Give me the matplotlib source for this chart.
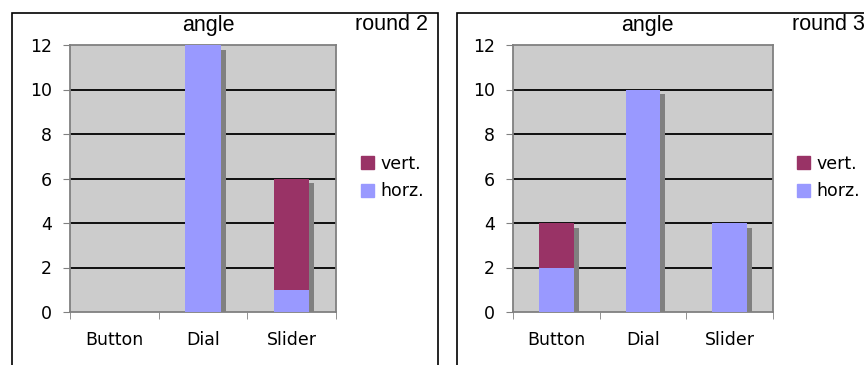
import numpy as np
import matplotlib
matplotlib.use("Agg")
import matplotlib.pyplot as plt
from matplotlib.patches import Rectangle, Patch

# data
categories = ["Button", "Dial", "Slider"]
rounds = ["round 2", "round 3"]
horz = [[0, 12, 1], [2, 10, 4]]
vert = [[0, 0, 5], [2, 0, 0]]

c_vert = "#993366"
c_horz = "#9999FF"
c_bg = "#CCCCCC"
c_shadow = "#808080"

W, H = 864, 365
fig = plt.figure(figsize=(W / 100, H / 100), dpi=100)

# panel frames (pixel coords -> figure fraction)
frames = [(12, 438), (457, 900)]
for x0, x1 in frames:
    fig.patches.append(Rectangle((x0 / W, -0.2), (x1 - x0) / W, 1.2 - 13 / H,
                                 transform=fig.transFigure, fill=False,
                                 edgecolor="black", linewidth=1.2))

axes_px = [(70, 336), (513, 773)]
title_px = [208, 647]
round_px = [355, 792]
legend_px = [361, 797]

x = np.arange(len(categories)) + 0.5
bw = 0.4
for i in range(2):
    ax0, ax1 = axes_px[i]
    ax = fig.add_axes([ax0 / W, (H - 312) / H, (ax1 - ax0) / W, 267 / H])
    ax.set_facecolor(c_bg)
    tot = np.array(horz[i]) + np.array(vert[i])

    # drop shadow to the right of each bar
    ax.bar(x + 0.056, np.where(tot > 0, tot - 0.22, 0), bw,
           color=c_shadow, zorder=2)
    ax.bar(x, horz[i], bw, color=c_horz, zorder=3)
    ax.bar(x, vert[i], bw, bottom=horz[i], color=c_vert, zorder=3)

    ax.set_xlim(0, 3)
    ax.set_ylim(0, 12)
    ax.set_yticks(range(0, 13, 2))
    for yv in range(2, 12, 2):
        ax.axhline(yv, color="black", linewidth=1.3, zorder=1)
    for s in ax.spines.values():
        s.set_color(c_shadow)
        s.set_linewidth(1.3)
    ax.set_xticks(x)
    ax.set_xticklabels(categories)
    ax.set_xticks([0, 1, 2, 3], minor=True)
    ax.tick_params(axis="x", which="major", length=0, pad=14, labelsize=12.5)
    ax.tick_params(axis="x", which="minor", length=5, color=c_shadow,
                   direction="out")
    ax.tick_params(axis="y", length=5, color=c_shadow, pad=8,
                   labelsize=12.5)

    fig.text(title_px[i] / W, 1 - 25 / H, "angle", ha="center", va="center",
             fontsize=15.5, family="Liberation Sans")
    fig.text(round_px[i] / W, 1 - 25 / H, rounds[i], ha="left", va="center",
             fontsize=15.5, family="Liberation Sans")

    handles = [Patch(color=c_vert, label="vert."),
               Patch(color=c_horz, label="horz.")]
    ax.legend(handles=handles, loc="center left",
              bbox_to_anchor=(legend_px[i] / W, 1 - 177.5 / H),
              bbox_transform=fig.transFigure, frameon=False, fontsize=12.5,
              handlelength=0.75, handleheight=0.75, handletextpad=0.35,
              labelspacing=0.55, borderpad=0, borderaxespad=0)

fig.savefig("out.png", dpi=100)
